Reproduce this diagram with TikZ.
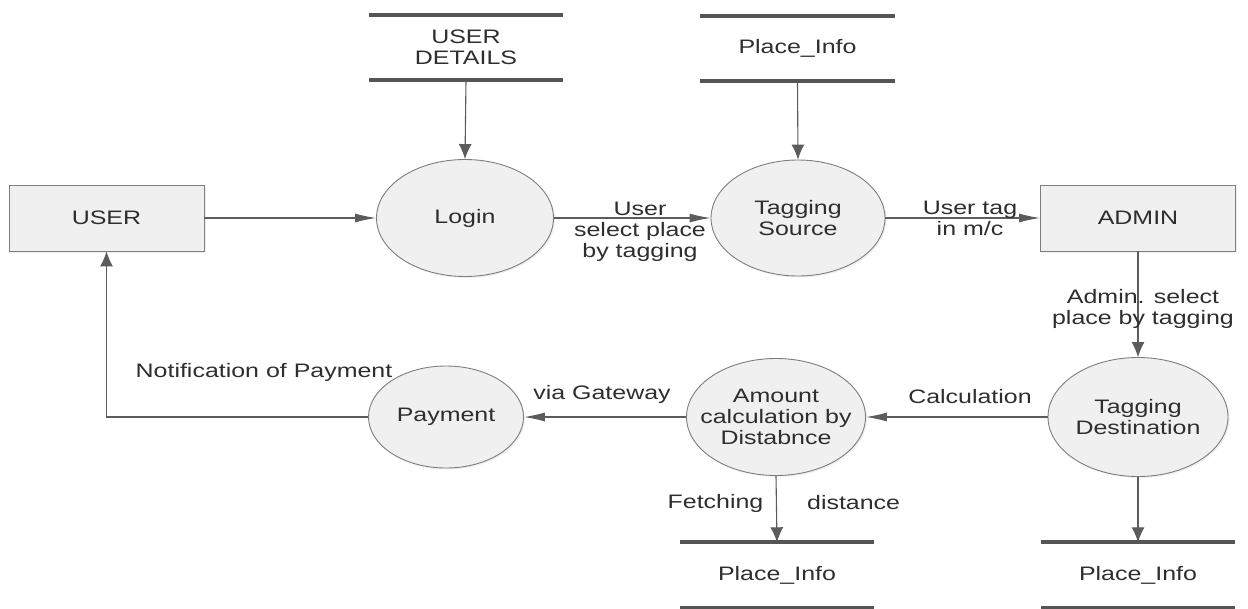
\documentclass[tikz,border=0pt]{standalone}
\usepackage{fontspec}
\setmainfont{Liberation Sans}[FakeStretch=1.28]
\usetikzlibrary{shapes.geometric,arrows.meta,shadows}
\definecolor{ln}{HTML}{5C5C5C}
\definecolor{bd}{HTML}{7E7E7E}
\definecolor{fl}{HTML}{F0F0F0}
\definecolor{tx}{HTML}{2E2E2E}
\definecolor{sl}{HTML}{555555}
\begin{document}
\begin{tikzpicture}[x=1pt,y=-1pt,
  every node/.style={font=\fontsize{19.5}{21}\selectfont, text=tx, align=center, inner sep=0pt},
  proc/.style={ellipse, draw=bd, fill=fl, line width=0.9pt,
    drop shadow={shadow xshift=1.5pt, shadow yshift=-1.5pt, opacity=0.12}},
  ent/.style={rectangle, draw=bd, fill=fl, line width=0.9pt, minimum width=195pt, minimum height=66pt,
    drop shadow={shadow xshift=1.5pt, shadow yshift=-1.5pt, opacity=0.12}},
  store/.style={rectangle, minimum width=194pt, minimum height=65pt},
  sline/.style={draw=sl, line width=4pt},
  hflow/.style={draw=ln, line width=1.1pt, -{Latex[length=21pt,width=9pt]}},
  vflow/.style={draw=ln, line width=1.1pt, -{Latex[length=15pt,width=13pt]}},
  lbl/.style={}
]
\useasboundingbox[fill=white] (0,0) rectangle (1248,608);

% external entities
\node[ent] (user) at (106.5,218) {USER};
\node[ent] (admin) at (1138,218) {ADMIN};

% processes
\node[proc, minimum width=177pt, minimum height=117pt] (login) at (465,218) {};
\node at (login) {Login};
\node[proc, minimum width=174pt, minimum height=116pt] (tsrc) at (798,218) {};
\node at (tsrc) {Tagging\\Source};
\node[proc, minimum width=180pt, minimum height=119pt] (tdst) at (1138,417) {};
\node at (tdst) {Tagging\\Destination};
\node[proc, minimum width=179pt, minimum height=117pt] (amt) at (776,417) {};
\node at (amt) {Amount\\calculation by\\Distabnce};
\node[proc, minimum width=155pt, minimum height=102pt] (pay) at (446,417) {};
\node at (pay) {Payment};

% data stores
\node[store] (ud) at (466,47.5) {USER\\DETAILS};
\node[store] (pi1) at (797.5,48.5) {Place\_Info};
\node[store] (pi2) at (777,575) {Place\_Info};
\node[store] (pi3) at (1138,575) {Place\_Info};
\foreach \s in {ud,pi1,pi2,pi3}{
  \draw[sline] (\s.north west) -- (\s.north east);
  \draw[sline] (\s.south west) -- (\s.south east);
}

% flows
\draw[vflow] (ud.south) -- (login.north);
\draw[vflow] (pi1.south) -- (tsrc.north);
\draw[hflow] (user.east) -- (login.west);
\draw[hflow] (login.east) -- (tsrc.west);
\draw[hflow] (tsrc.east) -- (admin.west);
\draw[vflow] (admin.south) -- (tdst.north);
\draw[hflow] (tdst.west) -- (amt.east);
\draw[hflow] (amt.west) -- (pay.east);
\draw[vflow] (pay.west) -| (user.south);
\draw[vflow] (amt.south) -- (pi2.north);
\draw[vflow] (tdst.south) -- (pi3.north);

% labels
\node[lbl] (l1) at (640,232) {User\\select place\\by tagging};
\node[lbl] (l2) at (970,218) {User tag\\in m/c};
\node[lbl] (l3) at (1143,308.5) {Admin. select\\place by tagging};
\node[lbl] (l4) at (970,397) {Calculation};
\node[lbl] (l5) at (602,394) {via Gateway};
\node[lbl] (l6) at (264,372) {Notification of Payment};
\node[lbl] (l7) at (715.5,503) {Fetching};
\node[lbl] (l8) at (853.6,503) {distance};
\end{tikzpicture}
\end{document}
